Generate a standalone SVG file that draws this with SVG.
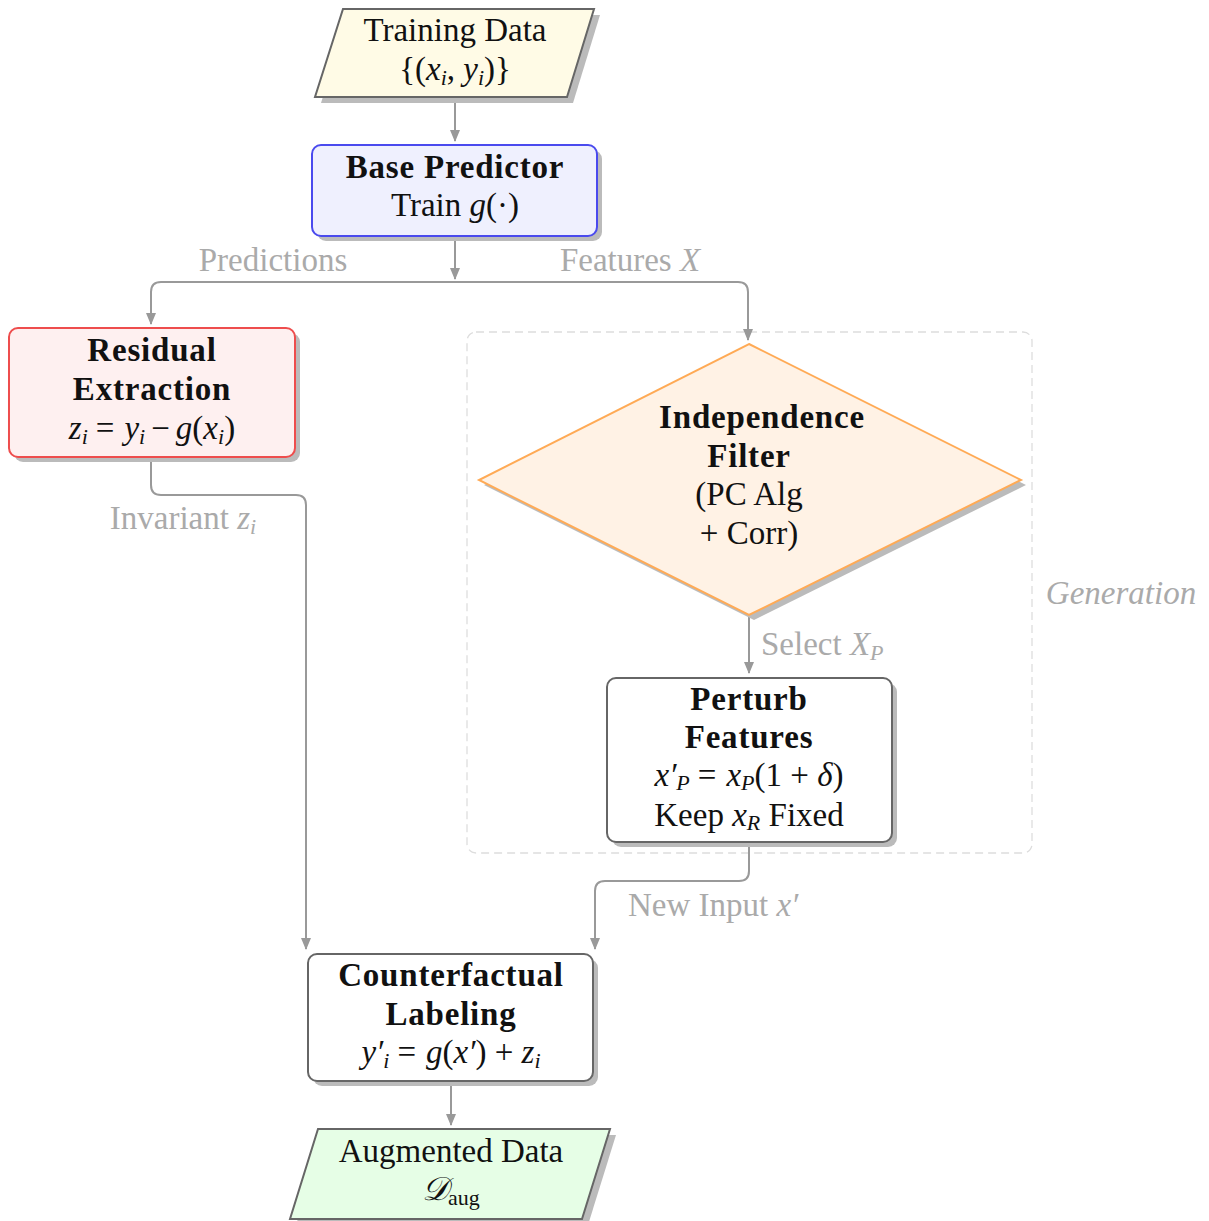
<svg xmlns="http://www.w3.org/2000/svg" width="1209" height="1221" viewBox="0 0 1209 1221">
<style>
text{font-family:"Liberation Serif","DejaVu Serif",serif;font-size:33px;fill:#111;text-anchor:middle}
.b{font-weight:bold;letter-spacing:0.8px}
.i{font-style:italic}
.s{font-size:22px}
.lbl{fill:#aaa;text-anchor:start}
.lc{fill:#aaa}
.shadow{fill:#bbb;stroke:none}
.node{stroke-width:2}
.conn{fill:none;stroke:#999;stroke-width:2}
</style>
<defs>
<marker id="ah" markerUnits="userSpaceOnUse" markerWidth="12" markerHeight="12" refX="11" refY="5" orient="auto">
<path d="M0,0 L12,5 L0,10 z" fill="#999"/>
</marker>
</defs>
<rect x="467" y="332" width="565" height="521" rx="9" fill="none" stroke="#ddd" stroke-width="1.3" stroke-dasharray="8,5"/>
<text class="i lc" x="1121" y="604">Generation</text>
<g id="connectors">
<path class="conn" d="M455,97 V141" marker-end="url(#ah)"/>
<path class="conn" d="M455,236 V279" marker-end="url(#ah)"/>
<path class="conn" d="M455,282 H161 Q151,282 151,292 V324" marker-end="url(#ah)"/>
<path class="conn" d="M455,282 H738 Q748,282 748,292 V340" marker-end="url(#ah)"/>
<path class="conn" d="M151,457 V485 Q151,495 161,495 H296 Q306,495 306,505 V949" marker-end="url(#ah)"/>
<path class="conn" d="M749,615 V673" marker-end="url(#ah)"/>
<path class="conn" d="M749,842 V871 Q749,881 739,881 H605 Q595,881 595,891 V949" marker-end="url(#ah)"/>
<path class="conn" d="M451,1081 V1125" marker-end="url(#ah)"/>
<text class="lc" x="273" y="271">Predictions</text>
<text class="lc" x="630" y="271">Features <tspan class="i">X</tspan></text>
<text class="lc" x="183" y="529">Invariant <tspan class="i">z</tspan><tspan class="s i" dy="5">i</tspan></text>
<text class="lbl" x="761" y="655">Select <tspan class="i">X</tspan><tspan class="s i" dy="5">P</tspan></text>
<text class="lbl" x="628" y="916">New Input <tspan class="i">x′</tspan></text>
</g>
<g id="training-data">
<polygon class="shadow" points="349,15 600,15 573,103 321,103"/>
<polygon class="node" points="343,9 594,9 567,97 315,97" fill="#fffbe6" stroke="#666"/>
<text x="455" y="41">Training Data</text>
<text x="455" y="80">{(<tspan class="i">x</tspan><tspan class="s i" dy="5">i</tspan><tspan dy="-5">, </tspan><tspan class="i">y</tspan><tspan class="s i" dy="5">i</tspan><tspan dy="-5">)}</tspan></text>
</g>
<g id="base-predictor">
<rect class="shadow" x="317" y="150" width="285" height="91" rx="9"/>
<rect class="node" x="312" y="145" width="285" height="91" rx="9" fill="#eff0fe" stroke="#4a4aee"/>
<text class="b" x="455" y="178">Base Predictor</text>
<text x="455" y="216">Train <tspan class="i">g</tspan>(·)</text>
</g>
<g id="residual-extraction">
<rect class="shadow" x="14" y="333" width="286" height="129" rx="9"/>
<rect class="node" x="9" y="328" width="286" height="129" rx="9" fill="#fef0f0" stroke="#ee4d4d"/>
<text class="b" x="152" y="361">Residual</text>
<text class="b" x="152" y="400">Extraction</text>
<text x="152" y="439"><tspan class="i">z</tspan><tspan class="s i" dy="5">i</tspan><tspan dy="-5" dx="8">=</tspan><tspan class="i" dx="10">y</tspan><tspan class="s i" dy="5">i</tspan><tspan dy="-5" dx="6">−</tspan><tspan class="i" dx="6">g</tspan>(<tspan class="i">x</tspan><tspan class="s i" dy="5">i</tspan><tspan dy="-5">)</tspan></text>
</g>
<g id="independence-filter">
<polygon class="shadow" points="754,349 1026,485 754,620 484,485"/>
<polygon class="node" points="749,344 1021,480 749,615 479,480" fill="#fff2e5" stroke="#ffaa55"/>
<text class="b" x="762" y="428">Independence</text>
<text class="b" x="749" y="467">Filter</text>
<text x="749" y="505">(PC Alg</text>
<text x="749" y="544">+ Corr)</text>
</g>
<g id="perturb-features">
<rect class="shadow" x="612" y="683" width="285" height="164" rx="9"/>
<rect class="node" x="607" y="678" width="285" height="164" rx="9" fill="#ffffff" stroke="#666"/>
<text class="b" x="749" y="710">Perturb</text>
<text class="b" x="749" y="748">Features</text>
<text x="749" y="786"><tspan class="i">x′</tspan><tspan class="s i" dy="4">P</tspan><tspan dy="-4" dx="8">=</tspan><tspan class="i" dx="10">x</tspan><tspan class="s i" dy="4">P</tspan><tspan dy="-4">(1 + </tspan><tspan class="i">δ</tspan>)</text>
<text x="749" y="826">Keep <tspan class="i">x</tspan><tspan class="s i" dy="4">R</tspan><tspan dy="-4"> Fixed</tspan></text>
</g>
<g id="counterfactual-labeling">
<rect class="shadow" x="313" y="959" width="285" height="127" rx="9"/>
<rect class="node" x="308" y="954" width="285" height="127" rx="9" fill="#ffffff" stroke="#666"/>
<text class="b" x="451" y="986">Counterfactual</text>
<text class="b" x="451" y="1025">Labeling</text>
<text x="451" y="1063"><tspan class="i">y′</tspan><tspan class="s i" dy="5">i</tspan><tspan dy="-5" dx="8">=</tspan><tspan class="i" dx="10">g</tspan>(<tspan class="i">x′</tspan>) + <tspan class="i">z</tspan><tspan class="s i" dy="5">i</tspan></text>
</g>
<g id="augmented-data">
<polygon class="shadow" points="324,1135 616,1135 588,1225 296,1225"/>
<polygon class="node" points="318,1129 610,1129 582,1219 290,1219" fill="#e6fee6" stroke="#666"/>
<text x="451" y="1162">Augmented Data</text>
<text x="451" y="1200"><tspan style="font-family:'DejaVu Serif',serif" class="i">𝒟</tspan><tspan class="s" dy="5">aug</tspan></text>
</g>
</svg>
